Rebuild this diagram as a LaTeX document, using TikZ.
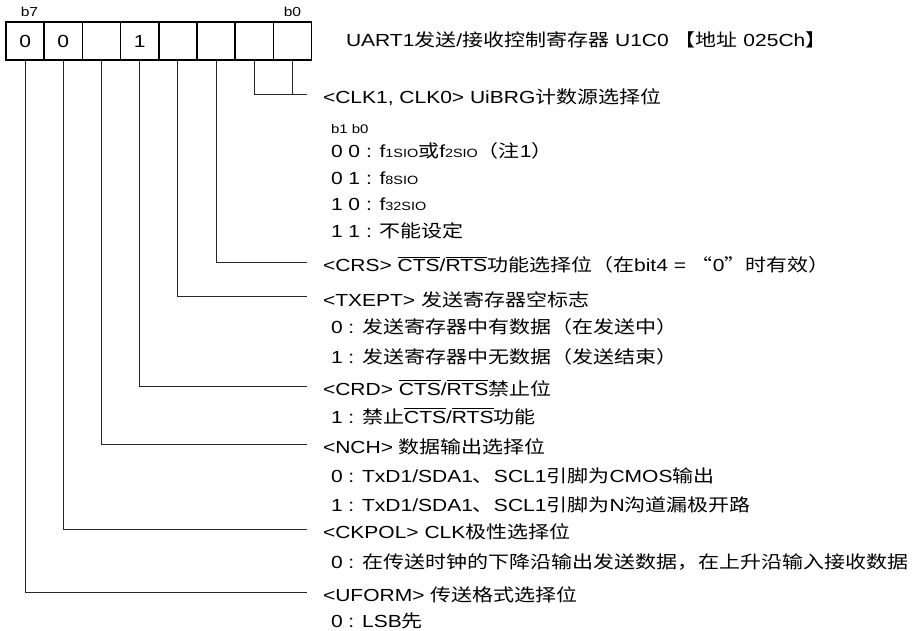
\documentclass[tikz,border=0pt]{standalone}
\usepackage{fontspec}
\setmainfont[FakeStretch=1.2]{Liberation Sans}
\newfontfamily\zhf[FakeStretch=1.2]{Noto Sans CJK SC}
\newcommand\zh[1]{{\zhf #1}}
\newcommand\ovl[1]{\leavevmode\vbox{\hrule height 0.9pt\kern 1.6pt\hbox{#1}}}
\newcommand\sm[1]{{\fontsize{12}{12}\selectfont #1}}
\begin{document}
\begin{tikzpicture}[x=1pt,y=-1pt,
  every node/.style={inner sep=0pt,outer sep=0pt},
  txt/.style={anchor=base west,font=\fontsize{17.5}{20}\selectfont},
  lbl/.style={anchor=base,font=\fontsize{13}{14}\selectfont},
  cell/.style={draw,line width=1.6pt,minimum width=38.2pt,minimum height=38pt,font=\fontsize{17.5}{20}\selectfont},
  lead/.style={line width=0.9pt,black!85}]
\path[use as bounding box] (0,0) rectangle (919,631);
% register cells
\node[cell] (c7) at (25.1,41) {0};
\node[cell] (c6) at (63.3,41) {0};
\node[cell] (c5) at (101.5,41) {};
\node[cell] (c4) at (139.7,41) {1};
\node[cell] (c3) at (177.9,41) {};
\node[cell] (c2) at (216.1,41) {};
\node[cell] (c1) at (254.3,41) {};
\node[cell] (c0) at (292.5,41) {};
\node[lbl] (b7) at (29.5,17) {b7};
\node[lbl] (b0) at (292.5,17) {b0};
\node[txt] (title) at (346,47) {UART1\zh{发送}/\zh{接收控制寄存器} U1C0 \zh{【地址} 025Ch\zh{】}};
% line end points
\coordinate (e10) at (306.5,94.3);
\coordinate (e2) at (306.5,262.7);
\coordinate (e3) at (306.5,296.7);
\coordinate (e4) at (306.5,386);
\coordinate (e5) at (306.5,444);
\coordinate (e6) at (306.5,529.3);
\coordinate (e7) at (306.5,592.3);
% connectors
\draw[lead] (c1.south) |- (e10);
\draw[lead] (c0.south) -- (c0.south |- e10);
\draw[lead] (c2.south) |- (e2);
\draw[lead] (c3.south) |- (e3);
\draw[lead] (c4.south) |- (e4);
\draw[lead] (c5.south) |- (e5);
\draw[lead] (c6.south) |- (e6);
\draw[lead] (c7.south) |- (e7);
% texts
\node[txt] (clk) at (323,103.5) {<CLK1, CLK0> UiBRG\zh{计数源选择位}};
\node[txt,font=\fontsize{12.5}{14}\selectfont] (bb) at (331,134) {b1 b0};
\node[txt] (clk00) at (331,158) {0 0 : f\sm{1SIO}\zh{或}f\sm{2SIO}\zh{（注}1\zh{）}};
\node[txt] (clk01) at (331,185) {0 1 : f\sm{8SIO}};
\node[txt] (clk10) at (331,211) {1 0 : f\sm{32SIO}};
\node[txt] (clk11) at (331,238) {1 1 : \zh{不能设定}};
\node[txt] (crs) at (323,272) {<CRS> \ovl{CTS}/\ovl{RTS}\zh{功能选择位（在}bit4 = \zh{“}0\zh{”时有效）}};
\node[txt] (txept) at (323,306) {<TXEPT> \zh{发送寄存器空标志}};
\node[txt] (tx0) at (331,334) {0 : \zh{发送寄存器中有数据（在发送中）}};
\node[txt] (tx1) at (331,363) {1 : \zh{发送寄存器中无数据（发送结束）}};
\node[txt] (crd) at (323,395) {<CRD> \ovl{CTS}/\ovl{RTS}\zh{禁止位}};
\node[txt] (crd1) at (331,423) {1 : \zh{禁止}\ovl{CTS}/\ovl{RTS}\zh{功能}};
\node[txt] (nch) at (323,453) {<NCH> \zh{数据输出选择位}};
\node[txt] (nch0) at (331,482) {0 : TxD1/SDA1\zh{、}SCL1\zh{引脚为}CMOS\zh{输出}};
\node[txt] (nch1) at (331,511) {1 : TxD1/SDA1\zh{、}SCL1\zh{引脚为}N\zh{沟道漏极开路}};
\node[txt] (ckpol) at (323,538.5) {<CKPOL> CLK\zh{极性选择位}};
\node[txt] (ck0) at (331,568) {0 : \zh{在传送时钟的下降沿输出发送数据，在上升沿输入接收数据}};
\node[txt] (uform) at (323,601.5) {<UFORM> \zh{传送格式选择位}};
\node[txt] (uf0) at (331,627) {0 : LSB\zh{先}};
\end{tikzpicture}
\end{document}
